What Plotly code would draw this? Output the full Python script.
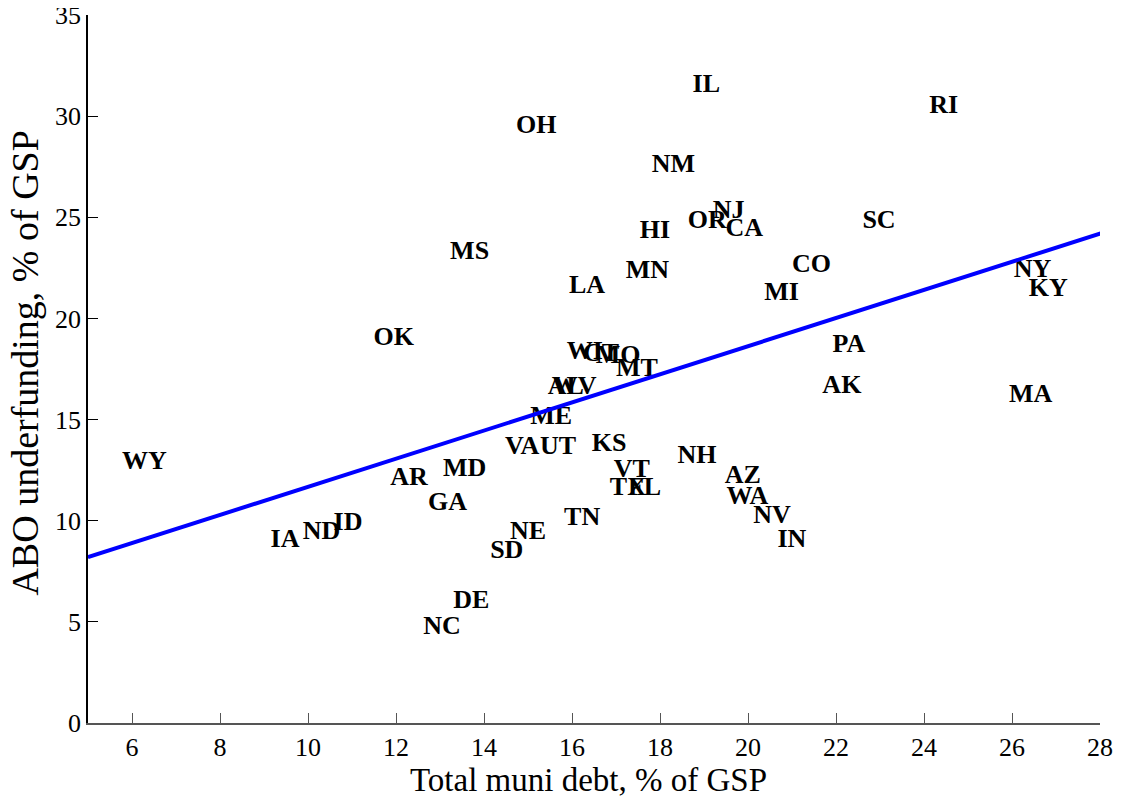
import plotly.graph_objects as go

states = ["WY","IA","ND","ID","AR","MD","GA","NE","SD","DE","NC","TN","OK","MS","OH",
          "LA","WI","CT","MO","MT","AL","WV","ME","VA","UT","KS","VT","TX","FL","NH",
          "AZ","WA","NV","IN","IL","NM","HI","MN","OR","NJ","CA","CO","MI","SC","RI",
          "NY","KY","PA","AK","MA"]
muni_debt = [5.77, 9.15, 9.88, 10.58, 11.87, 13.07, 12.73, 14.59, 14.14, 13.30, 12.62, 15.82, 11.49, 13.23, 14.73,
             15.93, 15.88, 16.25, 16.54, 17.00, 15.45, 15.54, 15.05, 14.48, 15.27, 16.45, 16.95, 16.86, 17.27, 18.40,
             19.47, 19.51, 20.12, 20.67, 18.74, 17.81, 17.54, 17.22, 18.63, 19.20, 19.49, 21.00, 20.37, 22.60, 24.12,
             26.04, 26.38, 21.92, 21.69, 25.93]
abo_underfunding = [12.87, 9.00, 9.40, 9.85, 12.08, 12.52, 10.84, 9.40, 8.47, 5.99, 4.70, 10.10, 19.00, 23.27, 29.50,
                    21.58, 18.30, 18.20, 18.10, 17.50, 16.60, 16.60, 15.10, 13.60, 13.60, 13.76, 12.50, 11.60, 11.60, 13.17,
                    12.18, 11.14, 10.20, 9.00, 31.53, 27.57, 24.30, 22.33, 24.80, 25.30, 24.40, 22.60, 21.24, 24.80, 30.50,
                    22.38, 21.44, 18.66, 16.63, 16.19]
fit_x = [5.0, 28.1]
fit_y = [8.20, 24.26]

x_ticks = [6, 8, 10, 12, 14, 16, 18, 20, 22, 24, 26, 28]
y_ticks = [0, 5, 10, 15, 20, 25, 30, 35]

font_family = "Liberation Serif, Times New Roman, serif"

fig = go.Figure()
fig.add_trace(go.Scatter(
    x=muni_debt, y=abo_underfunding, mode="text", text=states,
    textposition="middle right",
    textfont=dict(family=font_family, size=26, color="black", weight="bold"),
    showlegend=False, cliponaxis=False, hoverinfo="skip"))
fig.add_trace(go.Scatter(
    x=fit_x, y=fit_y, mode="lines",
    line=dict(color="#0000ff", width=4), showlegend=False))

fig.update_layout(
    width=1114, height=790,
    margin=dict(l=80, r=22, t=7, b=75),
    paper_bgcolor="white", plot_bgcolor="white",
    font=dict(family=font_family, size=26, color="black"),
    xaxis=dict(range=[5, 28], tickvals=x_ticks, ticks="inside", ticklen=10,
               showgrid=False, zeroline=False, showline=True, linecolor="#555555",
               tickcolor="#555555", linewidth=1.5, tickfont=dict(size=26),
               automargin=False, ticklabeloverflow="allow"),
    yaxis=dict(range=[0, 35], tickvals=y_ticks, ticks="inside", ticklen=10,
               showgrid=False, zeroline=False, showline=True, linecolor="black",
               tickcolor="black", linewidth=1.5, tickfont=dict(size=26),
               automargin=False, ticklabeloverflow="allow"),
    annotations=[
        dict(text="Total muni debt, % of GSP", xref="paper", yref="paper",
             x=0.495, y=-0.081, xanchor="center", yanchor="middle", showarrow=False,
             font=dict(size=33, family=font_family, color="black")),
        dict(text="ABO underfunding, % of GSP", xref="paper", yref="paper",
             x=-0.062, y=0.508, xanchor="center", yanchor="middle", showarrow=False,
             textangle=-90, font=dict(size=38, family=font_family, color="black")),
    ],
)

fig.write_html("out.html")
